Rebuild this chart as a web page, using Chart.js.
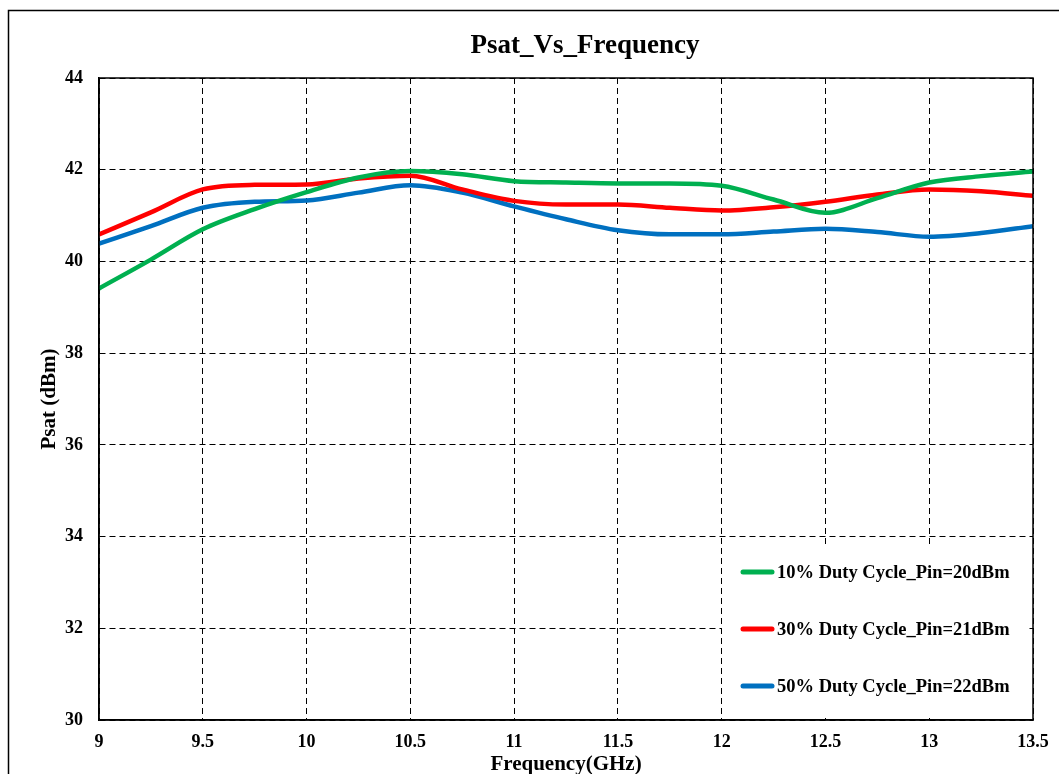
<!DOCTYPE html>
<html>
<head>
<meta charset="utf-8">
<script src="https://cdn.jsdelivr.net/npm/chart.js@4.4.1/dist/chart.umd.min.js"></script>
<style>
  html, body { margin: 0; padding: 0; background: #fff; }
  #wrap { width: 1059px; height: 774px; }
</style>
</head>
<body>
<div id="wrap"><canvas id="chart" width="1059" height="774"></canvas></div>
<script>
const freq = [9, 9.25, 9.5, 9.75, 10, 10.25, 10.5, 10.75, 11, 11.25, 11.5, 11.75, 12, 12.25, 12.5, 12.75, 13, 13.25, 13.5];
const duty10 = [39.41, 40.04, 40.70, 41.14, 41.51, 41.83, 41.97, 41.90, 41.75, 41.72, 41.70, 41.70, 41.65, 41.35, 41.06, 41.38, 41.72, 41.86, 41.96];
const duty30 = [40.59, 41.07, 41.57, 41.67, 41.68, 41.81, 41.87, 41.57, 41.32, 41.24, 41.24, 41.17, 41.11, 41.18, 41.30, 41.46, 41.57, 41.53, 41.43];
const duty50 = [40.39, 40.77, 41.17, 41.30, 41.33, 41.50, 41.66, 41.50, 41.20, 40.92, 40.68, 40.59, 40.59, 40.65, 40.71, 40.64, 40.54, 40.62, 40.77];
const seriesNames = ["10% Duty Cycle_Pin=20dBm", "30% Duty Cycle_Pin=21dBm", "50% Duty Cycle_Pin=22dBm"];
const seriesColors = ["#00B050", "#FF0000", "#0070C0"];
const chartTitle = "Psat_Vs_Frequency";

const serif = "'Liberation Serif', 'Times New Roman', serif";

const toPoints = vals => vals.map((v, i) => ({ x: freq[i], y: v }));

// frame, title, plot border and the legend box inside the plot
const extras = {
  id: "extras",
  afterDraw(c) {
    const ctx = c.ctx;
    const a = c.chartArea;
    ctx.save();
    ctx.strokeStyle = "#000";
    ctx.lineWidth = 1.5;
    ctx.strokeRect(8.5, 10.5, 1200, 1000);
    ctx.strokeRect(a.left, a.top, a.right - a.left, a.bottom - a.top);

    ctx.fillStyle = "#000";
    ctx.font = "bold 27px " + serif;
    ctx.textAlign = "center";
    ctx.textBaseline = "alphabetic";
    ctx.fillText(chartTitle, 585, 53);

    ctx.fillStyle = "#fff";
    ctx.fillRect(722, 545, 306, 170);

    ctx.font = "bold 18.5px " + serif;
    ctx.textBaseline = "middle";
    ctx.textAlign = "left";
    const rows = [572, 629, 686];
    seriesNames.forEach((name, i) => {
      ctx.strokeStyle = seriesColors[i];
      ctx.lineWidth = 5;
      ctx.lineCap = "round";
      ctx.beginPath();
      ctx.moveTo(743, rows[i]);
      ctx.lineTo(772, rows[i]);
      ctx.stroke();
      ctx.fillStyle = "#000";
      ctx.fillText(name, 777, rows[i] + 1);
    });
    ctx.restore();
  }
};

new Chart(document.getElementById("chart"), {
  type: "line",
  data: {
    datasets: [duty10, duty30, duty50].map((vals, i) => ({
      label: seriesNames[i],
      data: toPoints(vals),
      borderColor: seriesColors[i],
      backgroundColor: seriesColors[i],
      borderWidth: 4.5,
      pointRadius: 0,
      cubicInterpolationMode: "monotone",
      fill: false
    }))
  },
  options: {
    responsive: false,
    animation: false,
    layout: { padding: { left: 0, right: 26, top: 78, bottom: 0 } },
    plugins: {
      legend: { display: false },
      tooltip: { enabled: false },
      title: { display: false }
    },
    scales: {
      x: {
        type: "linear",
        min: 9,
        max: 13.5,
        afterFit: s => { s.height = 54; s.paddingLeft = 0; s.paddingRight = 0; },
        ticks: {
          stepSize: 0.5,
          color: "#000",
          padding: 12,
          font: { family: serif, size: 18, weight: "bold" },
          callback: v => String(v)
        },
        grid: { color: "#000", lineWidth: 1, drawTicks: false },
        border: { color: "#000", width: 1.5, dash: [6, 4] },
        title: {
          display: true,
          text: "Frequency(GHz)",
          color: "#000",
          font: { family: serif, size: 21, weight: "bold", lineHeight: 0.86 },
          padding: 0
        }
      },
      y: {
        min: 30,
        max: 44,
        afterFit: s => { s.width = 99; },
        ticks: {
          stepSize: 2,
          color: "#000",
          padding: 16,
          font: { family: serif, size: 18, weight: "bold" }
        },
        grid: { color: "#000", lineWidth: 1, drawTicks: false },
        border: { color: "#000", width: 1.5, dash: [6, 4] },
        title: {
          display: true,
          text: "Psat (dBm)",
          color: "#000",
          font: { family: serif, size: 21, weight: "bold", lineHeight: 1 },
          padding: { top: 39, bottom: 0 }
        }
      }
    }
  },
  plugins: [extras]
});
</script>
</body>
</html>
